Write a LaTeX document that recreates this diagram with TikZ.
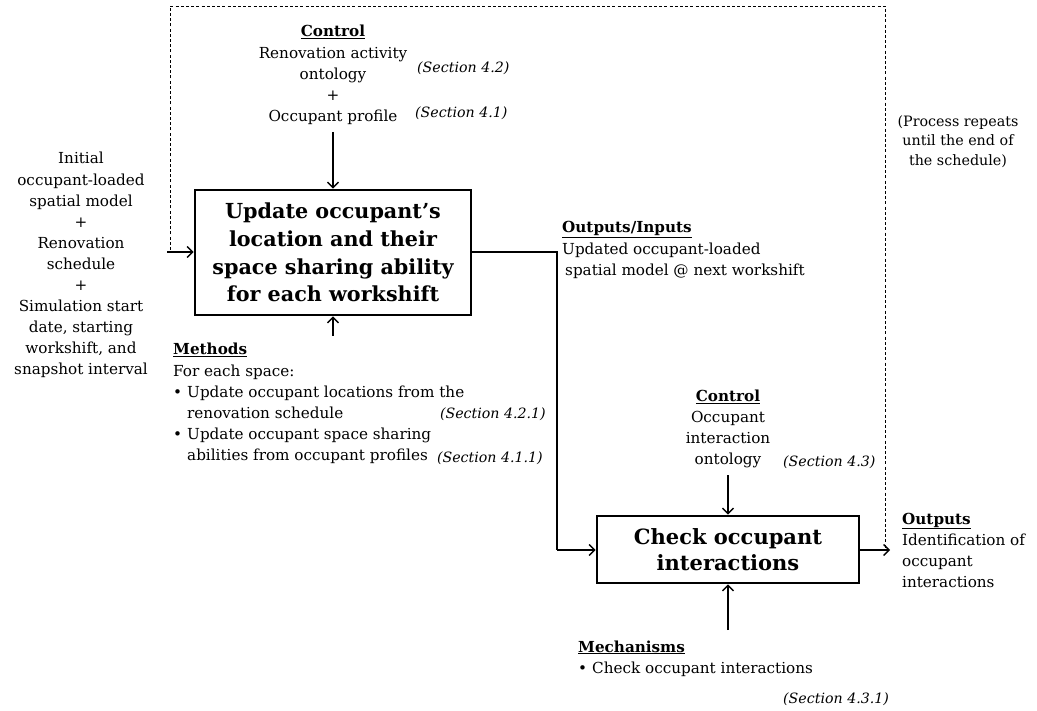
\documentclass[tikz,border=0pt]{standalone}
\usepackage{fontspec}
\setmainfont{DejaVu Serif}
\usetikzlibrary{arrows.meta}
\newcommand{\tb}[2]{\begin{tabular}[t]{@{}#1@{}}#2\end{tabular}}
\newcommand{\nf}{\fontsize{15.2}{21.1}\selectfont}
\newcommand{\secfont}{\fontsize{14.2}{21.1}\selectfont\itshape}
\newcommand{\hd}[1]{\underline{\textbf{#1}}}
\tikzset{
  txt/.style={inner sep=0pt, anchor=base, font=\nf},
  sec/.style={inner sep=0pt, anchor=base west, font=\secfont},
  procbox/.style={draw, line width=2.6pt, inner sep=0pt, align=center},
  arr/.style={line width=1.5pt, -{Straight Barb[length=5.5pt,width=11pt,line width=1.4pt]}},
  ln/.style={line width=1.5pt},
  loop/.style={line width=0.8pt, dash pattern=on 3pt off 2.2pt}
}
\begin{document}
\begin{tikzpicture}[x=1pt,y=-1pt]
\useasboundingbox (0,0) rectangle (1037,711);

% process boxes
\node[procbox, minimum width=276pt, minimum height=125pt,
      font=\fontsize{20.7}{27.8}\selectfont\bfseries] (b1) at (333,252.5)
  {Update occupant’s\\location and their\\space sharing ability\\for each workshift};
\node[procbox, minimum width=262pt, minimum height=67pt,
      font=\fontsize{21}{25.5}\selectfont\bfseries] (b2) at (728,549.5)
  {Check occupant\\interactions};

% loop
\coordinate (la) at (170,250);
\coordinate (lb) at (170,6);
\coordinate (lc) at (885,6);
\coordinate (ld) at (885,548);
\draw[loop] (la) -- (lb) -- (lc) -- (ld);

% control 1
\node[txt] (c1) at (333,37) {\tb{c}{\hd{Control}\\Renovation activity\\ontology\\+\\Occupant profile}};
\node[sec] (s42) at (417,72.7) {(Section 4.2)};
\node[sec] (s41) at (415,118) {(Section 4.1)};
\coordinate (c1a) at (333,132);
\draw[arr] (c1a) -- (b1.north);

% inputs
\node[txt] (in) at (81,164) {\tb{c}{Initial\\occupant-loaded\\spatial model\\+\\Renovation\\schedule\\+\\Simulation start\\date, starting\\workshift, and\\snapshot interval}};
\coordinate (ina) at (167,252);
\draw[arr] (ina) -- (ina -| b1.west);

% methods
\coordinate (m1a) at (333,336);
\draw[arr] (m1a) -- (b1.south);
\node[txt, anchor=base west] (meth) at (173,355) {\tb{l}{\hd{Methods}\\For each space:\\\makebox[14pt][l]{•}Update occupant locations from the\\\hspace{14pt}renovation schedule\\\makebox[14pt][l]{•}Update occupant space sharing\\\hspace{14pt}abilities from occupant profiles}};
\node[sec, anchor=base east] (s421) at (546,419) {(Section 4.2.1)};
\node[sec, anchor=base east] (s411) at (543,462) {(Section 4.1.1)};

% outputs/inputs
\node[txt, anchor=base west] (oi) at (562,233) {\tb{l}{\hd{Outputs/Inputs}\\Updated occupant-loaded\\\hspace{3pt}spatial model @ next workshift}};
\coordinate (k1) at (557,252);
\coordinate (k2) at (557,550);
\draw[ln] (b1.east |- k1) -- (k1) -- (k2);
\draw[arr] (k2) -- (k2 -| b2.west);

% process repeats
\node[txt, font=\fontsize{14.3}{19.3}\selectfont] (rep) at (958,126.7) {\tb{c}{(Process repeats\\until the end of\\the schedule)}};

% control 2
\node[txt] (c2) at (728,401.7) {\tb{c}{\hd{Control}\\Occupant\\interaction\\ontology}};
\node[sec] (s43) at (783,466.7) {(Section 4.3)};
\coordinate (c2a) at (728,475);
\draw[arr] (c2a) -- (b2.north);

% mechanisms
\coordinate (m2a) at (728,630);
\draw[arr] (m2a) -- (b2.south);
\node[txt, anchor=base west] (mech) at (578,652) {\tb{l}{\hd{Mechanisms}\\\makebox[14pt][l]{•}Check occupant interactions}};
\node[sec] (s431) at (783,703) {(Section 4.3.1)};

% outputs
\coordinate (oa) at (890,550);
\draw[arr] (b2.east |- oa) -- (oa);
\node[txt, anchor=base west] (out) at (902,524) {\tb{l}{\hd{Outputs}\\Identification of\\occupant\\interactions}};
\end{tikzpicture}
\end{document}
